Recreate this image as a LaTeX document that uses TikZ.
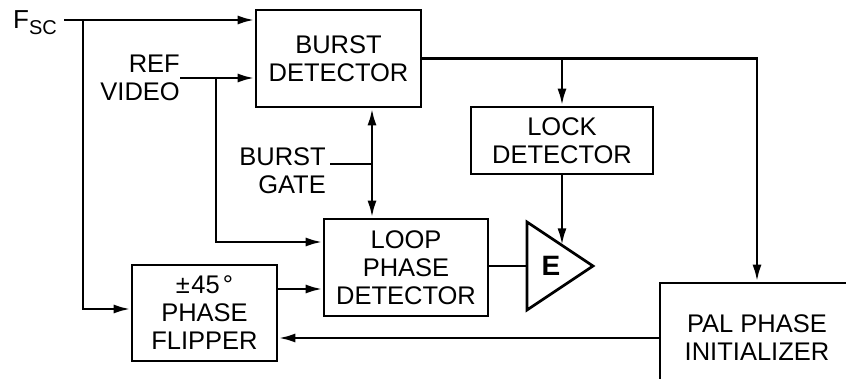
\documentclass[tikz,border=0pt]{standalone}
\usepackage{fontspec}
\setmainfont{Liberation Sans}
\usetikzlibrary{arrows.meta}
\begin{document}
\begin{tikzpicture}[x=1pt,y=-1pt,
  box/.style={draw,line width=2.7pt,rectangle,align=center,inner sep=0pt,font=\fontsize{25.5}{28}\selectfont},
  wire/.style={line width=2.7pt},
  arr/.style={wire,-{Latex[length=17pt,width=9pt]}},
  biarr/.style={wire,{Latex[length=17pt,width=9pt]}-{Latex[length=17pt,width=9pt]}},
  lbl/.style={align=right,inner sep=0pt,font=\fontsize{25.5}{28}\selectfont}]
\useasboundingbox (0,0) rectangle (846,379);
\clip (0,0) rectangle (846,379);

% blocks
\node[box,minimum width=165pt,minimum height=97pt] (burst) at (338.5,58.5) {BURST\\DETECTOR};
\node[box,minimum width=182pt,minimum height=67pt] (lock) at (562,140.5) {LOCK\\DETECTOR};
\node[box,minimum width=164pt,minimum height=97pt] (loop) at (406,267.5) {LOOP\\PHASE\\DETECTOR};
\node[box,minimum width=145pt,minimum height=96pt] (flip) at (204.5,313) {±\hspace{1.5pt}45\hspace{3pt}°\\PHASE\\FLIPPER};
\node[box,minimum width=194pt,minimum height=110pt] (pal) at (757,338) {PAL PHASE\\INITIALIZER};

% amplifier
\draw[wire] (527,222) -- (593,266) -- (527,310) -- cycle;
\node[inner sep=0pt,font=\bfseries\fontsize{28}{28}\selectfont] (amp) at (551,266) {E};
\coordinate (ampin) at (527,266);
\coordinate (amptop) at (562,245.3);

% labels
\node[anchor=base west,inner sep=0pt,font=\fontsize{26}{26}\selectfont] (fsc) at (13,29) {F\raisebox{-6pt}{\fontsize{20}{20}\selectfont SC}};
\node[lbl,anchor=east] (ref) at (180,78) {REF\\VIDEO};
\node[lbl,anchor=east] (bg) at (326,171) {BURST\\GATE};

% helper coordinates
\coordinate (fout) at (64,20);
\coordinate (fj) at (83,20);
\coordinate (fy) at (0,309);
\coordinate (rj) at (216,78);
\coordinate (ry) at (0,242);
\coordinate (bgs) at (330,164);
\coordinate (bgj) at (372,164);
\coordinate (py) at (0,289);

% connectors
\draw[arr] (fout) -- (fout -| burst.west);
\draw[arr] (fj) |- (flip.west |- fy);
\draw[arr] (ref.east) -- (ref.east -| burst.west);
\draw[arr] (rj) |- (loop.west |- ry);
\draw[wire] (bgs) -- (bgj);
\draw[biarr] (burst.south -| bgj) -- (loop.north -| bgj);
\draw[arr] (burst.east) -| (pal.north);
\draw[arr] (burst.east -| lock.north) -- (lock.north);
\draw[arr] (lock.south) -- (amptop);
\draw[wire] (loop.east |- ampin) -- (ampin);
\draw[arr] (flip.east |- py) -- (loop.west |- py);
\draw[arr] (pal.west) -- (flip.east |- pal.west);
\end{tikzpicture}
\end{document}
